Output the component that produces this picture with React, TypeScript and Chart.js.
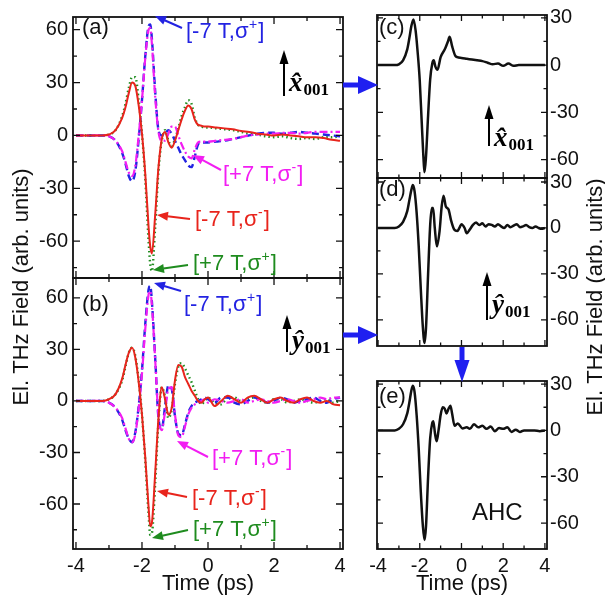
import React, { useEffect, useRef } from "react";
import { Chart, registerables } from "chart.js";

Chart.register(...registerables);

const SANS = "'Liberation Sans', Arial, Helvetica, sans-serif";
const SERIF = "'Liberation Serif', 'Times New Roman', 'DejaVu Serif', serif";
const PAGE_W = 605;
const PAGE_H = 603;

// ---------- tick values ----------
const xTicks = [-4, -2, 0, 2, 4];
const xMinor = [-3, -1, 1, 3];
const yTicksLeft = [60, 30, 0, -30, -60];
const yMinorLeft = [45, 15, -15, -45, -75];
const yTicksRight = [30, 0, -30, -60];
const yMinorRight = [15, -15, -45];

// ---------- panel (a): x_001 detection ----------
const timeA = [-4, -3.5, -3.2, -3.0, -2.8, -2.6, -2.5, -2.4, -2.3, -2.2, -2.1, -2.0, -1.9, -1.8, -1.75, -1.7, -1.6, -1.5, -1.4, -1.3, -1.2, -1.1, -1.0, -0.9, -0.8, -0.7, -0.6, -0.5, -0.4, -0.3, -0.2, -0.1, 0, 0.25, 0.5, 0.75, 1.0, 1.25, 1.5, 1.75, 2.0, 2.25, 2.5, 2.75, 3.0, 3.25, 3.5, 3.75, 4.0];
const redA = [0, 0, 0, 0.5, 3, 10, 16, 24, 30, 28, 17, 1, -22, -52, -63, -67, -45, -18, -2, 2, -4, -7, -3, 3, 9, 14, 17, 15, 9, 6, 5.5, 5, 5, 4.5, 4, 3.5, 2.5, 2, 1, 0.5, 0, 0.5, 0, -0.5, -1, -1, -1.5, -2.5, -3];
const greenA = [0, 0, 0, 0.5, 3, 11, 18, 27, 33, 33, 20, 1, -25, -60, -73, -77, -52, -20, -3, 3, -3, -6, -2, 4, 11, 16, 20, 18, 10, 6, 5, 4.5, 4.5, 4, 3.5, 3, 2, 1, 0.5, -0.5, -1, -0.5, -1.5, -2, -1.5, -2, -1, -1, -0.5];
const blueA = [0, 0, 0, -0.5, -3, -10, -16, -23, -26, -20, -2, 20, 45, 62, 63, 55, 25, 3, 0, 1, 3, 1, -3, -7, -11, -14, -17, -18, -12, -5, -4, -4, -4, -3.5, -3, -2, -1, 0, 1, 1.5, 1.5, 1, 1.5, 2, 1.5, 1, 0.5, 0, -0.5];
const magentaA = [0, 0, 0, -0.5, -3, -9, -15, -21, -23, -17, 0, 20, 44, 60, 61, 52, 22, 2, -3, -3, 1, 5, 5, 0, -5, -9, -12, -13, -8, -4, -3.5, -3.5, -3.5, -3, -2.5, -2, -1, 0, 0.5, 1, 1, 1.5, 1.5, 1, 1.5, 2, 2, 2, 2];

// ---------- panel (b): y_001 detection ----------
const timeB = [-4, -3.5, -3.2, -3.0, -2.8, -2.6, -2.5, -2.4, -2.3, -2.2, -2.1, -2.0, -1.9, -1.8, -1.75, -1.7, -1.6, -1.5, -1.4, -1.3, -1.2, -1.1, -1.0, -0.9, -0.8, -0.7, -0.6, -0.5, -0.4, -0.3, -0.2, -0.1, 0, 0.2, 0.4, 0.6, 0.8, 1.0, 1.2, 1.4, 1.6, 1.8, 2.0, 2.2, 2.4, 2.6, 2.8, 3.0, 3.2, 3.4, 3.6, 3.8, 4.0];
const redB = [0, 0, 0, 1, 4, 13, 21, 28, 31, 25, 11, -8, -33, -62, -73, -71, -42, -10, 8, 1, -8, -4, 12, 21, 20, 14, 10, 6, 3, 0, -1, 1, 2, -3, 0, 3, 1, -1, 2, 3, 1, -1, 1, 2, 0, -1, 1, 2, 0, -1, 0, -2, -2.5];
const greenB = [0, 0, 0, 1, 4, 12, 20, 28, 31, 26, 12, -8, -35, -66, -78, -77, -48, -12, 8, 2, -10, -5, 10, 20, 22, 19, 15, 11, 6, 1, -2, 0, 2, -1, -2, 2, 2, 0, 1, 2, 0, -1, 1, 1, -1, 0, 1, 0, -1, 0, 1, -1, 0];
const blueB = [0, 0, 0, -1, -4, -11, -17, -22, -24, -18, -3, 18, 45, 65, 67, 58, 25, -10, -16, -3, 9, 7, -9, -19, -20, -14, -7, -3, -1, 0, 1, 2, 1, -1, 2, 2, -1, -2, 0, 2, 1, -1, 0, 2, 1, -1, 0, 1, 2, 0, -1, 1, 2];
const magentaB = [0, 0, 0, -1, -4, -10, -16, -22, -24, -19, -4, 16, 42, 62, 64, 56, 24, -9, -17, -6, 7, 8, -8, -20, -21, -15, -8, -4, -2, -1, 0, 1, -1, 1, 0, -1, 0, 1, -1, 0, 1, 0, -1, 0, 1, 0, -1, 0, 1, 2, 1, 2, 2];

// ---------- panel (c): x_001 ----------
const timeC = [-4, -3.5, -3.2, -3.0, -2.8, -2.6, -2.5, -2.4, -2.3, -2.2, -2.1, -2.0, -1.9, -1.8, -1.77, -1.7, -1.6, -1.5, -1.4, -1.33, -1.25, -1.15, -1.0, -0.8, -0.65, -0.57, -0.45, -0.3, -0.2, 0, 0.25, 0.5, 0.75, 1.0, 1.25, 1.5, 1.75, 2.0, 2.25, 2.5, 2.75, 3.0, 3.5, 4.0];
const fieldC = [0, 0, 0, 0.5, 3, 10, 17, 25, 29, 22, 8, -10, -38, -64, -68, -58, -32, -9, 1, 3, -1, -3, 5, 10, 15, 18, 12, 6, 5, 4.5, 4, 3.5, 3, 2.5, 1.5, 0.5, 1, -0.5, 1, -0.5, 0, 0, 0, 0];

// ---------- panel (d): y_001 ----------
const timeD = [-4, -3.5, -3.2, -3.0, -2.8, -2.6, -2.5, -2.4, -2.33, -2.25, -2.15, -2.05, -1.95, -1.85, -1.77, -1.7, -1.6, -1.5, -1.42, -1.36, -1.28, -1.18, -1.05, -0.95, -0.86, -0.75, -0.62, -0.5, -0.35, -0.2, -0.1, 0, 0.15, 0.25, 0.4, 0.55, 0.7, 0.85, 1.0, 1.15, 1.3, 1.45, 1.6, 1.75, 1.9, 2.05, 2.2, 2.35, 2.5, 2.65, 2.8, 2.95, 3.1, 3.25, 3.4, 3.55, 3.7, 3.85, 4.0];
const fieldD = [0, 0, 0, 1, 4, 11, 18, 25, 28, 24, 10, -12, -40, -65, -75, -65, -30, 2, 13, 13, 0, -12, -2, 14, 21, 14, 12, 5, -1, -2, 0, 2.5, 0, -3.5, -1, 2, 3.5, 2, 3, 1, 2.5, 2, 1, 2.5, 1, 0, 2, 0.5, 1.5, 2.5, 0.5, 1, 2, 0.5, 0, 1, 0, -0.5, 0];

// ---------- panel (e): AHC ----------
const timeE = [-4, -3.5, -3.2, -3.0, -2.8, -2.6, -2.5, -2.4, -2.33, -2.25, -2.15, -2.05, -1.95, -1.85, -1.77, -1.7, -1.6, -1.5, -1.4, -1.35, -1.27, -1.19, -1.1, -1.0, -0.9, -0.8, -0.72, -0.62, -0.53, -0.45, -0.33, -0.18, 0.05, 0.25, 0.4, 0.6, 0.8, 1.0, 1.2, 1.4, 1.6, 1.8, 2.0, 2.2, 2.4, 2.6, 2.8, 3.0, 3.25, 3.5, 3.75, 4.0];
const fieldE = [0, 0, 0, 1, 4, 11, 18, 26, 29, 25, 10, -12, -40, -62, -71, -62, -30, -5, 5, 6, -2, -7, 0, 10, 15, 14, 11, 14, 16, 11, 3, 4.5, 1.3, 2, 1, 4, 2, 3, 1, 2.5, -0.5, 1.5, 1, 2, -1, 0.5, -1, 0, 0, 0, -0.5, 0];

const COLORS = {
  red: "#e8241c",
  green: "#1f8c1f",
  blue: "#2323e2",
  magenta: "#f21ef2",
  black: "#111111",
  arrowBlue: "#1f1ff0",
};

type Series = { label: string; t: number[]; v: number[]; color: string; width: number; dash: number[] };

function leftSeries(t: number[], red: number[], green: number[], blue: number[], magenta: number[]): Series[] {
  // first dataset is drawn on top
  return [
    { label: "[-7 T,σ-]", t, v: red, color: COLORS.red, width: 2, dash: [] },
    { label: "[+7 T,σ-]", t, v: magenta, color: COLORS.magenta, width: 2.2, dash: [8, 3, 2, 3] },
    { label: "[-7 T,σ+]", t, v: blue, color: COLORS.blue, width: 2.4, dash: [7, 4] },
    { label: "[+7 T,σ+]", t, v: green, color: COLORS.green, width: 2.4, dash: [1.5, 3] },
  ];
}

function blackSeries(label: string, t: number[], v: number[]): Series[] {
  return [{ label, t, v, color: COLORS.black, width: 2.5, dash: [] }];
}

// ---------- drawing helpers ----------
function arrow(ctx: CanvasRenderingContext2D, x1: number, y1: number, x2: number, y2: number, color: string, lw: number, hl: number, hw: number) {
  const ang = Math.atan2(y2 - y1, x2 - x1);
  const bx = x2 - hl * Math.cos(ang);
  const by = y2 - hl * Math.sin(ang);
  const nx = -Math.sin(ang);
  const ny = Math.cos(ang);
  ctx.save();
  ctx.setLineDash([]);
  ctx.strokeStyle = color;
  ctx.fillStyle = color;
  ctx.lineWidth = lw;
  ctx.beginPath();
  ctx.moveTo(x1, y1);
  ctx.lineTo(bx + 0.5 * Math.cos(ang), by + 0.5 * Math.sin(ang));
  ctx.stroke();
  ctx.beginPath();
  ctx.moveTo(x2, y2);
  ctx.lineTo(bx + (nx * hw) / 2, by + (ny * hw) / 2);
  ctx.lineTo(bx - (nx * hw) / 2, by - (ny * hw) / 2);
  ctx.closePath();
  ctx.fill();
  ctx.restore();
}

function sigmaLabel(ctx: CanvasRenderingContext2D, x: number, yc: number, field: string, sign: string, color: string) {
  ctx.save();
  ctx.fillStyle = color;
  ctx.textAlign = "left";
  ctx.textBaseline = "alphabetic";
  const base = yc + 7.5;
  ctx.font = `22px ${SANS}`;
  const main = `[${field} T,σ`;
  ctx.fillText(main, x, base);
  let w = ctx.measureText(main).width;
  ctx.font = `14px ${SANS}`;
  ctx.fillText(sign, x + w + 0.5, base - 9);
  w += ctx.measureText(sign).width + 1.5;
  ctx.font = `22px ${SANS}`;
  ctx.fillText("]", x + w, base);
  ctx.restore();
}

function unitVector(ctx: CanvasRenderingContext2D, ax: number, yBottom: number, yTip: number, lx: number, base: number, letter: string) {
  arrow(ctx, ax, yBottom, ax, yTip, "#000", 2, 14, 9);
  ctx.save();
  ctx.fillStyle = "#000";
  ctx.textAlign = "left";
  ctx.textBaseline = "alphabetic";
  ctx.font = `italic bold 27px ${SERIF}`;
  ctx.fillText(letter, lx, base);
  const w = ctx.measureText(letter).width;
  ctx.font = `bold 17px ${SERIF}`;
  ctx.fillText("001", lx + w + 1, base + 4);
  ctx.restore();
}

function panelTag(ctx: CanvasRenderingContext2D, text: string, x: number, yc: number) {
  ctx.save();
  ctx.fillStyle = "#111";
  ctx.font = `22px ${SANS}`;
  ctx.textAlign = "left";
  ctx.textBaseline = "middle";
  ctx.fillText(text, x, yc);
  ctx.restore();
}

function verticalTitle(ctx: CanvasRenderingContext2D, text: string, xBase: number, yc: number) {
  ctx.save();
  ctx.translate(xBase, yc);
  ctx.rotate(-Math.PI / 2);
  ctx.fillStyle = "#111";
  ctx.font = `22px ${SANS}`;
  ctx.textAlign = "center";
  ctx.textBaseline = "alphabetic";
  ctx.fillText(text, 0, 0);
  ctx.restore();
}

// ---------- panel definitions ----------
type Panel = {
  key: string;
  area: { left: number; top: number; right: number; bottom: number };
  xMin: number;
  xMax: number;
  yMin: number;
  yMax: number;
  yTicks: number[];
  yMinor: number[];
  yPos: "left" | "right";
  showX: boolean;
  majorLen: number;
  minorLen: number;
  series: Series[];
  decorate: (ctx: CanvasRenderingContext2D) => void;
};

const PANELS: Panel[] = [
  {
    key: "a",
    area: { left: 73, top: 9, right: 343, bottom: 278 },
    xMin: -4.09, xMax: 4.09, yMin: -80.9, yMax: 67.2,
    yTicks: yTicksLeft, yMinor: yMinorLeft, yPos: "left", showX: false,
    majorLen: 7, minorLen: 4,
    series: leftSeries(timeA, redA, greenA, blueA, magentaA),
    decorate: (ctx) => {
      panelTag(ctx, "(a)", 82, 28);
      arrow(ctx, 182, 28, 155, 16, COLORS.blue, 2, 11, 9);
      sigmaLabel(ctx, 186, 30, "-7", "+", COLORS.blue);
      arrow(ctx, 221, 170, 193, 155, COLORS.magenta, 2, 11, 9);
      sigmaLabel(ctx, 223, 173, "+7", "-", COLORS.magenta);
      arrow(ctx, 190, 219, 157, 215, COLORS.red, 2, 11, 9);
      sigmaLabel(ctx, 195, 218, "-7", "-", COLORS.red);
      arrow(ctx, 188, 265, 153, 270, COLORS.green, 2, 11, 9);
      sigmaLabel(ctx, 193, 262, "+7", "+", COLORS.green);
      unitVector(ctx, 284, 96, 50, 289, 91, "x\u0302");
    },
  },
  {
    key: "b",
    area: { left: 73, top: 278, right: 343, bottom: 549 },
    xMin: -4.09, xMax: 4.09, yMin: -86.2, yMax: 71.6,
    yTicks: yTicksLeft, yMinor: yMinorLeft, yPos: "left", showX: true,
    majorLen: 7, minorLen: 4,
    series: leftSeries(timeB, redB, greenB, blueB, magentaB),
    decorate: (ctx) => {
      panelTag(ctx, "(b)", 82, 305);
      arrow(ctx, 181, 291, 154, 283, COLORS.blue, 2, 11, 9);
      sigmaLabel(ctx, 184, 303, "-7", "+", COLORS.blue);
      arrow(ctx, 208, 457, 177, 441, COLORS.magenta, 2, 11, 9);
      sigmaLabel(ctx, 212, 457, "+7", "-", COLORS.magenta);
      arrow(ctx, 187, 497, 157, 491, COLORS.red, 2, 11, 9);
      sigmaLabel(ctx, 192, 497, "-7", "-", COLORS.red);
      arrow(ctx, 188, 530, 152, 538, COLORS.green, 2, 11, 9);
      sigmaLabel(ctx, 193, 528, "+7", "+", COLORS.green);
      unitVector(ctx, 287, 352, 315, 292, 349, "ŷ");
    },
  },
  {
    key: "c",
    area: { left: 377, top: 10, right: 547, bottom: 178 },
    xMin: -4.05, xMax: 4.1, yMin: -71.7, yMax: 31.8,
    yTicks: yTicksRight, yMinor: yMinorRight, yPos: "right", showX: false,
    majorLen: 6, minorLen: 3.5,
    series: blackSeries("x001", timeC, fieldC),
    decorate: (ctx) => {
      panelTag(ctx, "(c)", 379, 28);
      unitVector(ctx, 489, 146, 105, 494, 146, "x\u0302");
    },
  },
  {
    key: "d",
    area: { left: 377, top: 178, right: 547, bottom: 346 },
    xMin: -4.05, xMax: 4.1, yMin: -77, yMax: 32.6,
    yTicks: yTicksRight, yMinor: yMinorRight, yPos: "right", showX: false,
    majorLen: 6, minorLen: 3.5,
    series: blackSeries("y001", timeD, fieldD),
    decorate: (ctx) => {
      panelTag(ctx, "(d)", 379, 190);
      unitVector(ctx, 487, 320, 272, 492, 313, "ŷ");
    },
  },
  {
    key: "e",
    area: { left: 377, top: 381, right: 547, bottom: 549 },
    xMin: -4.05, xMax: 4.1, yMin: -76.8, yMax: 32,
    yTicks: yTicksRight, yMinor: yMinorRight, yPos: "right", showX: true,
    majorLen: 6, minorLen: 3.5,
    series: blackSeries("AHC", timeE, fieldE),
    decorate: (ctx) => {
      panelTag(ctx, "(e)", 379, 397);
      ctx.save();
      ctx.fillStyle = "#111";
      ctx.font = `24px ${SANS}`;
      ctx.textAlign = "left";
      ctx.textBaseline = "middle";
      ctx.fillText("AHC", 472, 513);
      ctx.restore();
      // page-level decorations
      verticalTitle(ctx, "El. THz Field (arb. units)", 28, 287);
      verticalTitle(ctx, "El. THz Field (arb. units)", 602, 297);
      arrow(ctx, 343, 85, 378, 85, COLORS.arrowBlue, 5, 20, 18);
      arrow(ctx, 343, 335, 378, 335, COLORS.arrowBlue, 5, 20, 18);
      arrow(ctx, 462, 347, 462, 382, COLORS.arrowBlue, 5, 22, 15);
    },
  },
];

function framePlugin(p: Panel) {
  return {
    id: "frame_" + p.key,
    afterDatasetsDraw(chart: any) {
      const { ctx, chartArea: a, scales } = chart;
      const x = scales.x;
      const y = scales.y;
      ctx.save();
      ctx.setLineDash([]);
      ctx.strokeStyle = "#111";
      ctx.lineWidth = 1.3;
      ctx.beginPath();
      const vTick = (v: number, len: number) => {
        const px = x.getPixelForValue(v);
        ctx.moveTo(px, a.bottom);
        ctx.lineTo(px, a.bottom - len);
        ctx.moveTo(px, a.top);
        ctx.lineTo(px, a.top + len);
      };
      const hTick = (v: number, len: number) => {
        const py = y.getPixelForValue(v);
        ctx.moveTo(a.left, py);
        ctx.lineTo(a.left + len, py);
        ctx.moveTo(a.right, py);
        ctx.lineTo(a.right - len, py);
      };
      xTicks.forEach((v) => vTick(v, p.majorLen));
      xMinor.forEach((v) => vTick(v, p.minorLen));
      p.yTicks.forEach((v) => hTick(v, p.majorLen));
      p.yMinor.forEach((v) => hTick(v, p.minorLen));
      ctx.stroke();
      ctx.lineWidth = 1.8;
      ctx.strokeRect(a.left, a.top, a.right - a.left, a.bottom - a.top);
      ctx.restore();
      p.decorate(ctx);
    },
  };
}

function buildConfig(p: Panel): any {
  const leftAxis = p.yPos === "left";
  return {
    type: "line",
    data: {
      datasets: p.series.map((s) => ({
        label: s.label,
        data: s.t.map((t, i) => ({ x: t, y: s.v[i] })),
        borderColor: s.color,
        backgroundColor: s.color,
        borderWidth: s.width,
        borderDash: s.dash,
        pointRadius: 0,
        fill: false,
        cubicInterpolationMode: "monotone",
      })),
    },
    options: {
      animation: false,
      responsive: false,
      events: [],
      layout: {
        autoPadding: false,
        padding: {
          left: leftAxis ? 0 : p.area.left,
          right: leftAxis ? PAGE_W - p.area.right : 0,
          top: p.area.top,
          bottom: p.showX ? 0 : PAGE_H - p.area.bottom,
        },
      },
      plugins: { legend: { display: false }, tooltip: { enabled: false }, title: { display: false } },
      scales: {
        x: {
          type: "linear",
          position: "bottom",
          min: p.xMin,
          max: p.xMax,
          grid: { display: false, drawTicks: false },
          border: { display: false },
          ticks: {
            display: p.showX,
            padding: 5,
            autoSkip: false,
            maxRotation: 0,
            color: "#111",
            font: { family: SANS, size: 20 },
            callback: (v: any) => String(v),
          },
          afterBuildTicks: (s: any) => {
            s.ticks = xTicks.map((v) => ({ value: v }));
          },
          title: {
            display: p.showX,
            text: "Time (ps)",
            color: "#111",
            font: { family: SANS, size: 22 },
            padding: { top: 0, bottom: 6 },
          },
          afterFit: (s: any) => {
            s.height = p.showX ? PAGE_H - p.area.bottom : 0;
          },
        },
        y: {
          type: "linear",
          position: p.yPos,
          min: p.yMin,
          max: p.yMax,
          grid: { display: false, drawTicks: false },
          border: { display: false },
          ticks: {
            padding: leftAxis ? 5 : 3,
            autoSkip: false,
            color: "#111",
            font: { family: SANS, size: 20 },
            callback: (v: any) => String(v),
          },
          afterBuildTicks: (s: any) => {
            s.ticks = p.yTicks.map((v) => ({ value: v }));
          },
          afterFit: (s: any) => {
            s.width = leftAxis ? p.area.left : PAGE_W - p.area.right;
          },
        },
      },
    },
    plugins: [framePlugin(p)],
  };
}

export default function App() {
  const boxRef = useRef<HTMLDivElement | null>(null);
  useEffect(() => {
    const box = boxRef.current;
    if (!box) return;
    const canvases = Array.from(box.querySelectorAll("canvas")) as HTMLCanvasElement[];
    const charts = PANELS.map((p, i) => new Chart(canvases[i], buildConfig(p)));
    return () => charts.forEach((c) => c.destroy());
  }, []);
  return (
    <div
      ref={boxRef}
      style={{ position: "fixed", left: 0, top: 0, width: PAGE_W, height: PAGE_H, background: "#fff" }}
    >
      {PANELS.map((p) => (
        <canvas
          key={p.key}
          width={PAGE_W}
          height={PAGE_H}
          style={{ position: "absolute", left: 0, top: 0, width: PAGE_W, height: PAGE_H }}
        />
      ))}
    </div>
  );
}
